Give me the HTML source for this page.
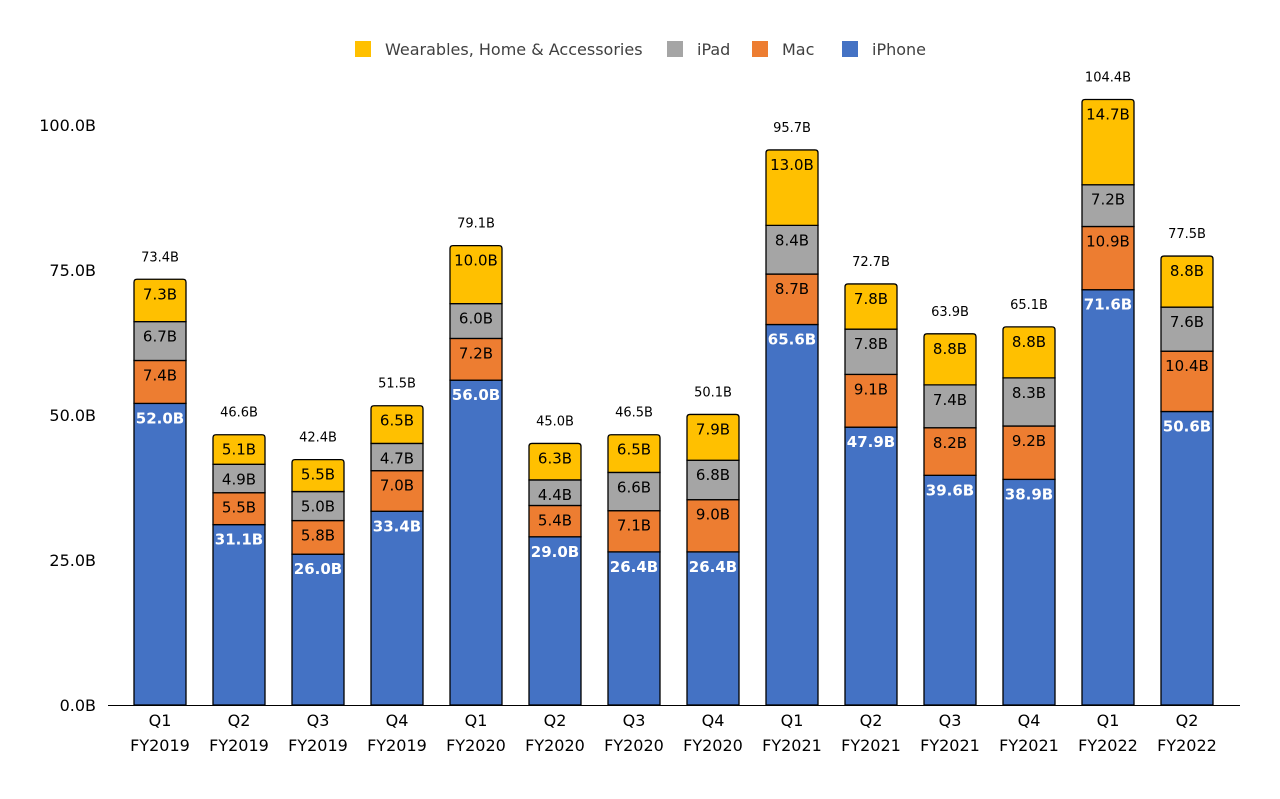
<!DOCTYPE html>
<html><head><meta charset="utf-8"><style>
body{margin:0;background:#fff;font-family:"Liberation Sans","DejaVu Sans",sans-serif;}
svg text{font-family:"DejaVu Sans","Liberation Sans",sans-serif;}
</style></head><body>
<svg id="chart" width="1280" height="794" viewBox="0 0 1280 794" xmlns="http://www.w3.org/2000/svg">
<g id="legend"></g>
<g id="yaxis"></g>
<g id="bars"></g>
<g id="xaxis"></g>
</svg>
<script>
const categories=[["Q1","FY2019"],["Q2","FY2019"],["Q3","FY2019"],["Q4","FY2019"],["Q1","FY2020"],["Q2","FY2020"],["Q3","FY2020"],["Q4","FY2020"],["Q1","FY2021"],["Q2","FY2021"],["Q3","FY2021"],["Q4","FY2021"],["Q1","FY2022"],["Q2","FY2022"]];
const iphone=[52.0,31.1,26.0,33.4,56.0,29.0,26.4,26.4,65.6,47.9,39.6,38.9,71.6,50.6];
const mac=[7.4,5.5,5.8,7.0,7.2,5.4,7.1,9.0,8.7,9.1,8.2,9.2,10.9,10.4];
const ipad=[6.7,4.9,5.0,4.7,6.0,4.4,6.6,6.8,8.4,7.8,7.4,8.3,7.2,7.6];
const wearables=[7.3,5.1,5.5,6.5,10.0,6.3,6.5,7.9,13.0,7.8,8.8,8.8,14.7,8.8];
const totals=[73.4,46.6,42.4,51.5,79.1,45.0,46.5,50.1,95.7,72.7,63.9,65.1,104.4,77.5];
const yTicks=[0,25,50,75,100];
const seriesNames=["Wearables, Home & Accessories","iPad","Mac","iPhone"];

const NS="http://www.w3.org/2000/svg";
const Y0=705, PX=5.8, X0=160, STEP=79, BW=52;
const y=v=>Y0-v*PX;
const x=i=>X0+i*STEP;
function mk(tag,attrs,parent,txt){const e=document.createElementNS(NS,tag);for(const k in attrs)e.setAttribute(k,attrs[k]);if(txt!==undefined)e.textContent=txt;parent.appendChild(e);return e;}
const colors={iphone:"#4472C4",mac:"#ED7D31",ipad:"#A5A5A5",wearables:"#FFC000"};
const legCols=[colors.wearables,colors.ipad,colors.mac,colors.iphone];

// legend
const lg=document.getElementById("legend");
const legX=[355,667,752,842];
seriesNames.forEach((n,i)=>{
 const g=mk("g",{},lg);
 
 
 mk("rect",{x:legX[i],y:41,width:16,height:16,fill:legCols[i]},g);
 mk("text",{x:legX[i]+30,y:55,"font-size":16,fill:"#404040"},g,n);
});
// y axis
const ya=document.getElementById("yaxis");
yTicks.forEach(t=>{
 const e=mk("text",{x:96,y:y(t)+6,"text-anchor":"end","font-size":16,fill:"#000"},ya,t.toFixed(1)+"B");
 
 
});
mk("line",{x1:108,x2:1240,y1:Y0+0.5,y2:Y0+0.5,stroke:"#000","stroke-width":1},ya);
// bars
const bg=document.getElementById("bars");
categories.forEach((c,i)=>{
 const g=mk("g",{},bg);
 
 
 const segs=[["iphone",iphone[i]],["mac",mac[i]],["ipad",ipad[i]],["wearables",wearables[i]]];
 let base=0;const left=x(i)-BW/2;
 const top=y(iphone[i]+mac[i]+ipad[i]+wearables[i]);
 segs.forEach(([k,v],j)=>{
  const yt=y(base+v), yb=y(base);
  if(j===3){
   const r=3;
   mk("path",{d:`M${left},${yb} L${left},${yt+r} Q${left},${yt} ${left+r},${yt} L${left+BW-r},${yt} Q${left+BW},${yt} ${left+BW},${yt+r} L${left+BW},${yb} Z`,fill:colors[k],stroke:"#000","stroke-width":1.3},g);
  } else {
   mk("rect",{x:left,y:yt,width:BW,height:yb-yt,fill:colors[k],stroke:"#000","stroke-width":1.3},g);
  }
  const lt=mk("text",{x:x(i),y:yt+20,"text-anchor":"middle","font-size":15,fill:k==="iphone"?"#fff":"#000","font-weight":k==="iphone"?"bold":"normal"},g,v.toFixed(1)+"B");
  
  
  base+=v;
 });
 const tl=mk("text",{x:x(i),y:top-18,"text-anchor":"middle","font-size":13,fill:"#000"},g,totals[i].toFixed(1)+"B");
 
 
});
// x axis labels
const xa=document.getElementById("xaxis");
categories.forEach((c,i)=>{
 const t=mk("text",{x:x(i),y:726,"text-anchor":"middle","font-size":16,fill:"#000"},xa,c[0]);
 
 
 const t2=mk("text",{x:x(i),y:751,"text-anchor":"middle","font-size":16,fill:"#000"},xa,c[1]);
 
 
});
</script>
</body></html>
